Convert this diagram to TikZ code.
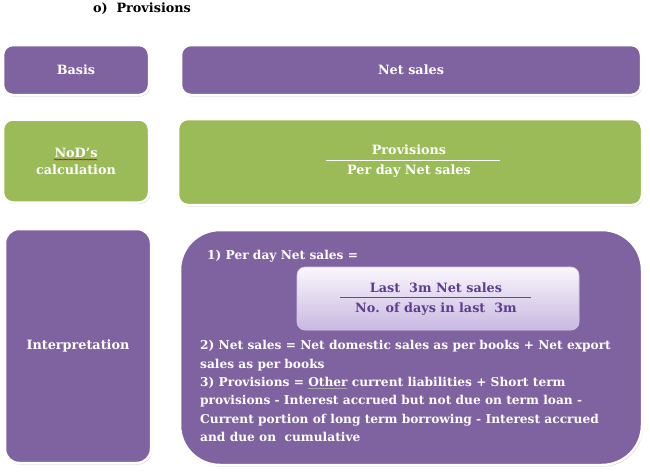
\documentclass[tikz,border=0pt]{standalone}
\usepackage{fontspec}
\setmainfont{DejaVu Serif}
\usetikzlibrary{shadows,backgrounds,decorations.pathmorphing}

\definecolor{boxpurple}{RGB}{127,99,161}
\definecolor{boxgreen}{RGB}{155,187,89}
\definecolor{inktext}{RGB}{94,62,140}
\definecolor{lavtop}{RGB}{250,247,253}
\definecolor{lavbot}{RGB}{200,184,225}

\tikzset{
  labelfont/.style={font=\bfseries\fontsize{12.8}{15}\selectfont},
  card/.style={rounded corners=10pt, draw=white, line width=2.5pt,
    drop shadow={opacity=0.35, shadow xshift=1pt, shadow yshift=-1.5pt},
    text=white, labelfont, align=center, inner sep=0pt},
  purplecard/.style={card, fill=boxpurple},
  greencard/.style={card, fill=boxgreen},
  link/.style={line width=3pt},
  bodytext/.style={text=white, font=\bfseries\fontsize{12.2}{18.3}\selectfont,
    align=left, inner sep=0pt},
}

\begin{document}
\begin{tikzpicture}[x=1pt,y=-1pt]
\useasboundingbox[fill=white] (0,0) rectangle (650,474);

% heading
\node[labelfont, inner sep=0pt] (title) at (142,8.5) {o)\ \ Provisions};

% row 1
\node[purplecard, minimum width=146pt, minimum height=50pt] (basis) at (76,70) {Basis};
\node[purplecard, minimum width=460pt, minimum height=50pt] (netsales) at (411,70) {Net sales};

% row 2
\node[greencard, minimum width=146pt, minimum height=83pt,
      font=\bfseries\fontsize{12.8}{17}\selectfont] (nod) at (76,161) {NoD’s\\calculation};
\node[greencard, minimum width=464pt, minimum height=86pt] (formula) at (410,162) {};
\node[text=white, labelfont, inner sep=0pt] (fnum) at (409,150) {Provisions};
\node[text=white, labelfont, inner sep=0pt] (fden) at (409,171) {Per day Net sales};
\draw[white, line width=1.6pt] (326,160.5) -- (500,160.5);
\draw[red!80!black, line width=0.5pt, decorate,
      decoration={snake, amplitude=0.6pt, segment length=2.5pt}]
      (54,159.5) -- (97,159.5);

% row 3
\node[purplecard, minimum width=146pt, minimum height=234pt, rounded corners=14pt] (interp) at (78,346) {Interpretation};
\node[purplecard, minimum width=462pt, minimum height=235pt, rounded corners=40pt] (detail) at (411,347.5) {};

\node[bodytext, anchor=west] (step1) at (207,256) {1) Per day Net sales =};

\node[rounded corners=8pt, draw=lavbot!80!white, line width=0.6pt,
      top color=lavtop, bottom color=lavbot, minimum width=282pt, minimum height=63pt,
      drop shadow={opacity=0.3, shadow xshift=1pt, shadow yshift=-1.5pt}] (inner) at (438,298.5) {};
\node[text=inktext, labelfont, inner sep=0pt] (inum) at (436,288) {Last\ \ 3m Net sales};
\node[text=inktext, labelfont, inner sep=0pt] (iden) at (436,309) {No. of days in last\ \ 3m};
\draw[inktext!80!gray, line width=1.4pt] (340,297.5) -- (531,297.5);

\node[bodytext, anchor=north west] (steps) at (200,340.5) {%
2) Net sales = Net domestic sales as per books + Net export\\
sales as per books\\
3) Provisions = Other current liabilities + Short term\\
provisions - Interest accrued but not due on term loan -\\
Current portion of long term borrowing - Interest accrued\\
and due on\ \ cumulative};
\draw[gray!70, line width=0.7pt] (308,388.5) -- (347,388.5);

% connectors
\begin{scope}[on background layer]
\draw[link, boxgreen] (basis.east) -- (netsales.west);
\draw[link, boxpurple] (nod.east) -- (nod.east -| formula.west);
\draw[link, boxgreen] ([yshift=29pt]interp.east) -- ([yshift=29pt]interp.east -| detail.west);
\end{scope}
\end{tikzpicture}
\end{document}
